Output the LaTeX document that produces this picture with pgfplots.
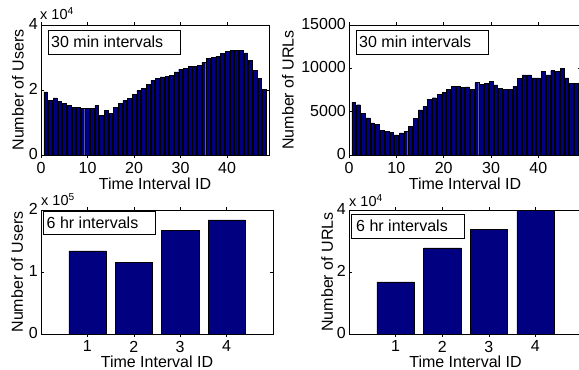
\documentclass[border=0pt]{standalone}
\usepackage{pgfplots}
\pgfplotsset{compat=1.18}
\usepackage{fontspec}
\setmainfont{Liberation Sans}
\definecolor{mblue}{RGB}{0,0,128}
\newcommand{\lf}{\fontsize{16bp}{18bp}\selectfont}
\newcommand{\ef}{\fontsize{14.5bp}{16bp}\selectfont}
\pgfplotsset{
  mstyle/.style={
    scale only axis,
    anchor=south west,
    clip=false,
    axis line style={black, line width=0.6bp},
    tick align=inside,
    major tick length=3bp,
    tick style={black, line width=0.5bp},
    tick label style={font=\lf, inner sep=0.5bp},
    xticklabel style={yshift=-3.2bp},
    yticklabel style={xshift=-2.5bp, yshift=1bp},
    label style={font=\lf, inner sep=0.5bp},
    /pgf/number format/assume math mode=true,
    ymin=0,
    scaled y ticks=false,
    ybar,
    bar width=0.8,
  },
  mbar/.style={fill=mblue, draw=black, line width=0.4bp},
}
\begin{document}
\begin{tikzpicture}
\useasboundingbox (0,0) rectangle (579bp,370bp);
\clip (0,0) rectangle (579bp,370bp);
% ---------- top left ----------
\begin{axis}[mstyle, name=tl,
  at={(41bp,215bp)}, width=228bp, height=130bp,
  xmin=0, xmax=49, ymax=40000,
  xtick={0,10,20,30,40},
  ytick={0,20000,40000}, yticklabels={0,2,4},
  xlabel={Time Interval ID}, ylabel={Number of Users},
  xlabel style={at={(axis description cs:0.5,-0.218)}, anchor=center},
  ylabel style={at={(axis description cs:-0.101,0.5)}, anchor=center},
]
\addplot[mbar] coordinates {
(1,19400)(2,16800)(3,17600)(4,16500)(5,15900)(6,15300)(7,14600)(8,14600)
(9,14300)(10,14300)(11,14300)(12,15200)(13,12200)(14,13700)(15,12800)(16,14600)
(17,15900)(18,16800)(19,17400)(20,18600)(21,19900)(22,20500)(23,21800)(24,23000)
(25,23600)(26,24000)(27,24200)(28,24500)(29,25600)(30,26400)(31,26600)(32,27300)
(33,27300)(34,27500)(35,28600)(36,29700)(37,30000)(38,30400)(39,31200)(40,31800)
(41,32100)(42,32300)(43,32300)(44,31400)(45,29200)(46,26100)(47,23500)(48,20100)
};
\end{axis}
% ---------- top right ----------
\begin{axis}[mstyle, name=tr,
  at={(349bp,215bp)}, width=232bp, height=130bp,
  xmin=0, xmax=49, ymax=15000,
  xtick={0,10,20,30,40},
  ytick={0,5000,10000,15000}, yticklabels={0,5000,10000,15000},
  xlabel={Time Interval ID}, ylabel={Number of URLs},
  xlabel style={at={(axis description cs:0.5,-0.218)}, anchor=center},
  ylabel style={at={(axis description cs:-0.263,0.5)}, anchor=center},
]
\addplot[mbar] coordinates {
(1,6100)(2,5800)(3,4830)(4,4290)(5,3710)(6,3560)(7,2860)(8,2710)
(9,2590)(10,2320)(11,2550)(12,2710)(13,3290)(14,4210)(15,5220)(16,5600)
(17,6420)(18,6610)(19,7000)(20,7230)(21,7580)(22,7920)(23,7890)(24,7770)
(25,7850)(26,7580)(27,8350)(28,8160)(29,8270)(30,8470)(31,8080)(32,7690)
(33,7580)(34,7580)(35,7920)(36,8810)(37,9240)(38,9240)(39,8890)(40,8890)
(41,9620)(42,9240)(43,9740)(44,9660)(45,9970)(46,8890)(47,8270)(48,8270)
};
\end{axis}
% ---------- bottom left ----------
\begin{axis}[mstyle, name=bl,
  at={(41bp,36bp)}, width=232bp, height=124bp,
  xmin=0, xmax=5, ymax=200000,
  xtick={1,2,3,4},
  ytick={0,100000,200000}, yticklabels={0,1,2},
  xlabel={Time Interval ID}, ylabel={Number of Users},
  xlabel style={at={(axis description cs:0.5,-0.223)}, anchor=center},
  ylabel style={at={(axis description cs:-0.103,0.5)}, anchor=center},
]
\addplot[mbar] coordinates {(1,134000)(2,115700)(3,167500)(4,184000)};
\end{axis}
% ---------- bottom right ----------
\begin{axis}[mstyle, name=br,
  at={(349bp,36bp)}, width=233bp, height=124bp,
  xmin=0, xmax=5, ymax=40000,
  xtick={1,2,3,4},
  ytick={0,20000,40000}, yticklabels={0,2,4},
  xlabel={Time Interval ID}, ylabel={Number of URLs},
  xlabel style={at={(axis description cs:0.5,-0.223)}, anchor=center},
  ylabel style={at={(axis description cs:-0.094,0.5)}, anchor=center},
]
\addplot[mbar] coordinates {(1,16800)(2,27800)(3,33800)(4,40000)};
\end{axis}
% exponent labels
\node[anchor=base west, inner sep=0, font=\ef] at (40bp,350bp) {x 10\textsuperscript{4}};
\node[anchor=base west, inner sep=0, font=\ef] at (41bp,164.5bp) {x 10\textsuperscript{5}};
\node[anchor=base west, inner sep=0, font=\ef] at (349bp,163.5bp) {x 10\textsuperscript{4}};
% text boxes
\draw[line width=0.6bp, fill=white] (48bp,340bp) rectangle (180bp,316bp);
\node[anchor=west, inner sep=0, font=\lf] at (51bp,328bp) {30 min intervals};
\draw[line width=0.6bp, fill=white] (356bp,340bp) rectangle (488bp,316bp);
\node[anchor=west, inner sep=0, font=\lf] at (359bp,328bp) {30 min intervals};
\draw[line width=0.6bp, fill=white] (43bp,159bp) rectangle (155bp,135.5bp);
\node[anchor=west, inner sep=0, font=\lf] at (46.5bp,147.2bp) {6 hr intervals};
\draw[line width=0.6bp, fill=white] (351.7bp,156bp) rectangle (464bp,131.7bp);
\node[anchor=west, inner sep=0, font=\lf] at (356bp,143.8bp) {6 hr intervals};
\end{tikzpicture}
\end{document}
